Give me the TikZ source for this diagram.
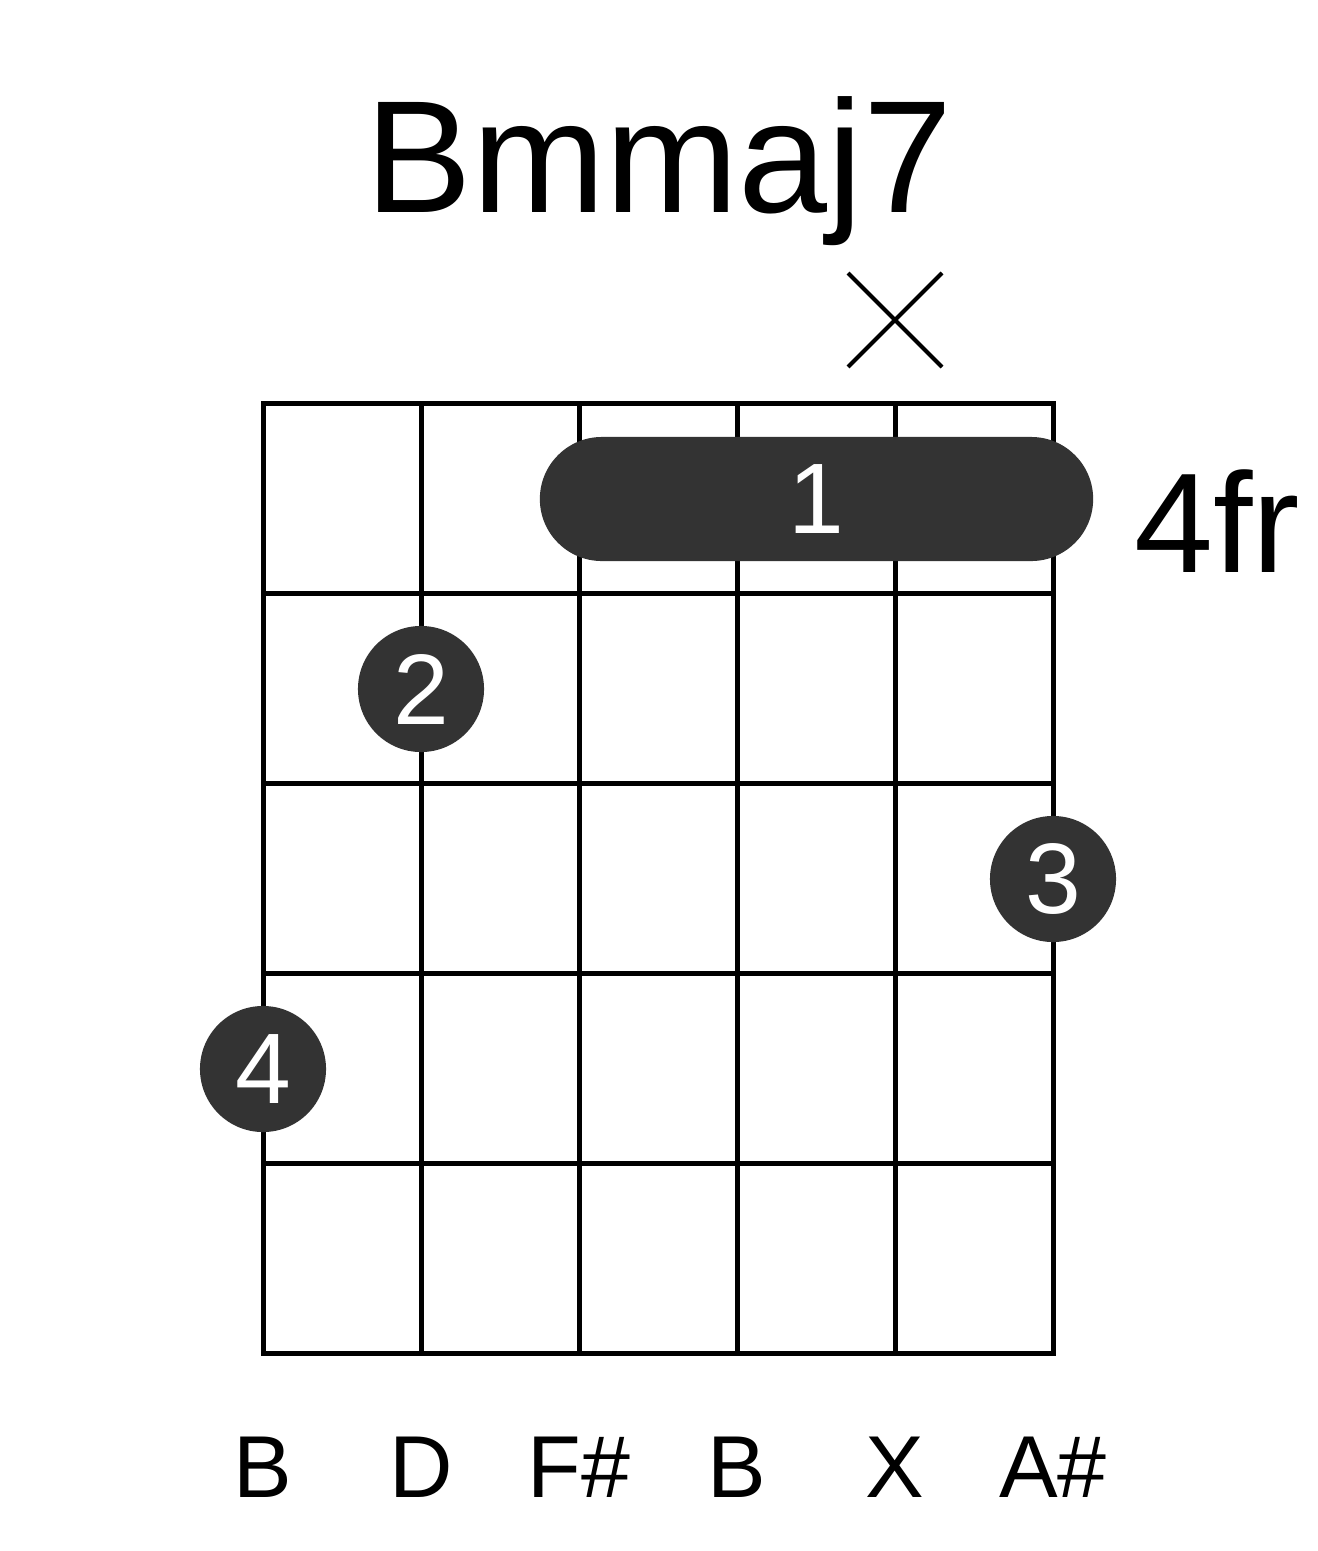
\documentclass[tikz,border=0pt]{standalone}
\usepackage{fontspec}
\setmainfont{Liberation Sans}
\usepackage{xcolor}
\definecolor{dotgrey}{HTML}{333333}
\tikzset{
fingerdot/.style={circle, draw=none, fill=dotgrey, text=white, inner sep=0pt, minimum size=1.26cm, font=\fontsize{28.5}{30}\selectfont},
barrenode/.style={rectangle, draw=none, fill=dotgrey, text=white, rounded corners=0.62cm, inner sep=0pt, minimum width=5.53cm, minimum height=1.24cm, font=\fontsize{28.5}{30}\selectfont},
gridline/.style={line width=0.05cm, black},
mutecross/.style={line width=0.04cm, black},
titletext/.style={anchor=base, inner sep=0pt, font=\fontsize{45.5}{50}\selectfont},
frettext/.style={anchor=base, inner sep=0pt, font=\fontsize{40.4}{44}\selectfont},
notetext/.style={anchor=base, inner sep=0pt, font=\fontsize{25}{28}\selectfont},
}

\begin{document}
\begin{tikzpicture}[x=0.01cm, y=-0.01cm]
    \useasboundingbox (0,0) rectangle (1317,1551);
    % title and fret number
    \node[titletext] (title) at (659,212) {Bmmaj7};
    \node[frettext] (fretno) at (1217,572) {4fr};
    % muted string
    \coordinate (mute) at (895,320);
    \draw[mutecross] ([shift={(-47,-47)}]mute) -- ([shift={(47,47)}]mute);
    \draw[mutecross] ([shift={(-47,47)}]mute) -- ([shift={(47,-47)}]mute);
    % grid
    \foreach \i in {1,...,4}
        \draw[gridline] (263+158*\i,403) -- (263+158*\i,1353.5);
    \foreach \j in {1,...,4}
        \draw[gridline] (263,403+190.1*\j) -- (1053.5,403+190.1*\j);
    \draw[gridline] (263,403) rectangle (1053.5,1353.5);
    % fingers
    \node[barrenode] at (816.5,499) (barre) {1};
    \node[fingerdot] at (421,689) (f2) {2};
    \node[fingerdot] at (1053,879) (f3) {3};
    \node[fingerdot] at (263,1069) (f4) {4};
    % notes
    \foreach \sx/\nm [count=\k] in {263/B,421/D,579/F\#,737/B,895/X,1053/A\#}
        \node[notetext] (note\k) at (\sx,1497) {\nm};
\end{tikzpicture}
\end{document}
